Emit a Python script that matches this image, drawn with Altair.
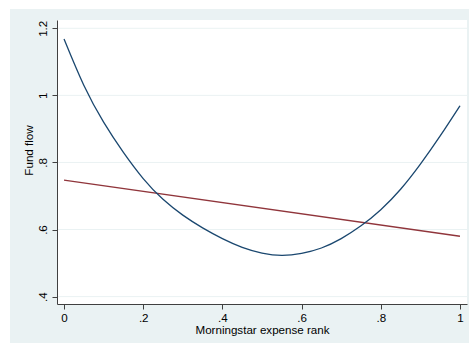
import altair as alt
import pandas as pd

# Quadratic fit (navy)
curve_x = [0.0, 0.05, 0.10, 0.15, 0.20, 0.25, 0.30, 0.35, 0.40, 0.45, 0.50,
           0.55, 0.60, 0.65, 0.70, 0.75, 0.80, 0.85, 0.90, 0.95, 1.0]
curve_y = [1.168, 1.030, 0.920, 0.830, 0.752, 0.690, 0.643, 0.605, 0.573, 0.547, 0.530,
           0.523, 0.529, 0.545, 0.573, 0.611, 0.659, 0.720, 0.795, 0.879, 0.969]
# Linear fit (maroon)
line_x = [0.0, 1.0]
line_y = [0.747, 0.580]

x_ticks = [0, 0.2, 0.4, 0.6, 0.8, 1]
y_ticks = [0.4, 0.6, 0.8, 1.0, 1.2]

W, H = 410, 284
BG = "#EAF2F3"
FONT = "Liberation Sans"
FS = 11.6

xscale = alt.Scale(domain=[-0.0177, 1.0177], nice=False, zero=False)
yscale = alt.Scale(domain=[0.378, 1.2247], nice=False, zero=False)

lab = "replace(toString(datum.value), '0.', '.')"

x_axis = alt.Axis(values=x_ticks, labelExpr=lab, title="Morningstar expense rank",
                  grid=False, domainColor="#404040", tickColor="#404040", tickSize=5,
                  labelPadding=3, titlePadding=1, labelFontSize=FS, titleFontSize=FS,
                  labelColor="black", titleColor="black", titleFontWeight="normal",
                  labelFont=FONT, titleFont=FONT, zindex=2)
y_axis = alt.Axis(values=y_ticks, labelExpr=lab, title="Fund flow",
                  grid=False, domainColor="#404040", tickColor="#404040", tickSize=5,
                  labelAngle=270, labelAlign="center", labelBaseline="bottom",
                  labelPadding=4, titlePadding=3, titleY=130, labelFontSize=FS, titleFontSize=FS,
                  labelColor="black", titleColor="black", titleFontWeight="normal",
                  labelFont=FONT, titleFont=FONT, zindex=2)

one = pd.DataFrame({"a": [0]})
outer = alt.Chart(one).mark_rect(fill=BG, clip=False).encode(
    x=alt.value(-47), x2=alt.value(412), y=alt.value(-11), y2=alt.value(323))
inner = alt.Chart(one).mark_rect(fill="white").encode(
    x=alt.value(0), x2=alt.value(W), y=alt.value(0), y2=alt.value(H))

grid = alt.Chart(pd.DataFrame({"t": y_ticks})).mark_rule(color=BG, strokeWidth=1).encode(
    y=alt.Y("t:Q", scale=yscale, axis=y_axis), x=alt.value(0), x2=alt.value(W))

df_c = pd.DataFrame({"x": curve_x, "y": curve_y})
df_l = pd.DataFrame({"x": line_x, "y": line_y})

lin = alt.Chart(df_l).mark_line(color="#90353B", strokeWidth=1.3).encode(
    x=alt.X("x:Q", scale=xscale, axis=x_axis),
    y=alt.Y("y:Q", scale=yscale, axis=y_axis))
quad = alt.Chart(df_c).mark_line(color="#1A476F", strokeWidth=1.3, interpolate="natural").encode(
    x=alt.X("x:Q", scale=xscale, axis=x_axis),
    y=alt.Y("y:Q", scale=yscale, axis=y_axis))

chart = alt.layer(outer, inner, grid, lin, quad).properties(
    width=W, height=H,
    autosize=alt.AutoSizeParams(type="none"),
    padding={"left": 57, "top": 20, "right": 2, "bottom": 41},
    background="white",
).configure_view(stroke=None)

chart.save("out.html", embed_options={"renderer": "svg", "actions": False})
